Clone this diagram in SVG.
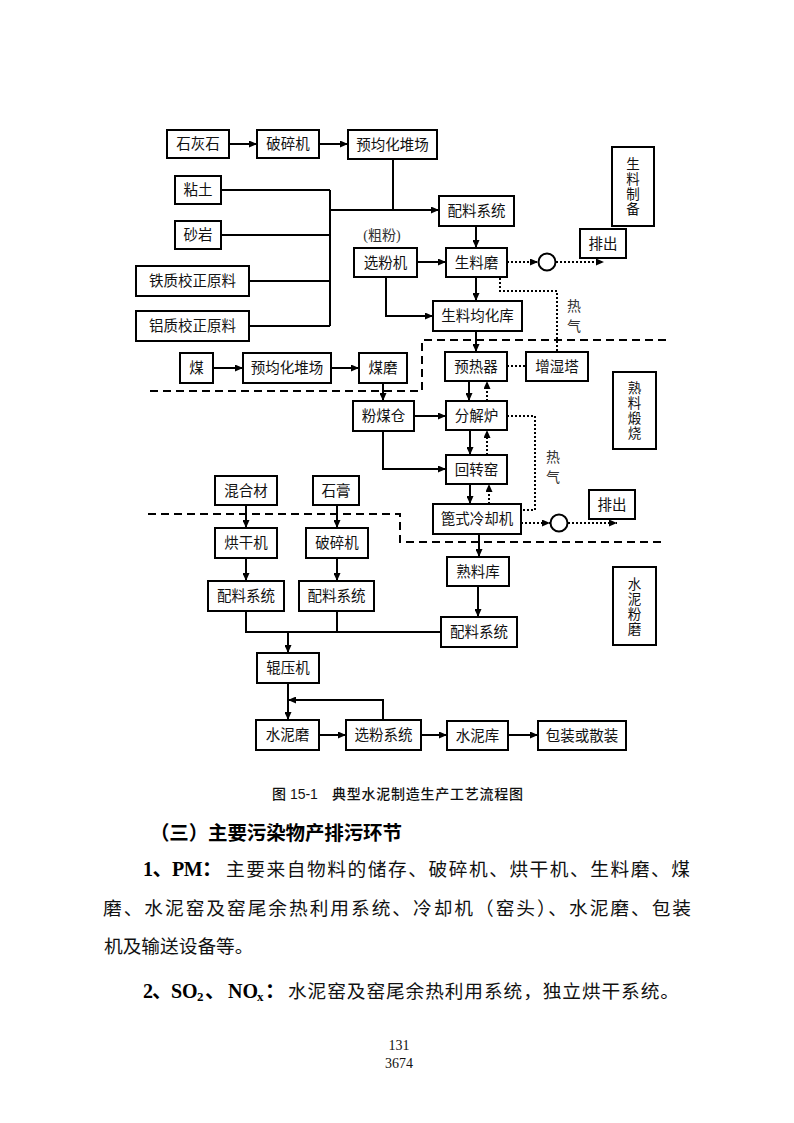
<svg xmlns="http://www.w3.org/2000/svg" width="794" height="1123" viewBox="0 0 794 1123">
<style>
.b{fill:#fff;stroke:#000;stroke-width:2}
.t{font-family:"Liberation Serif","Noto Sans CJK SC",serif;font-size:14.5px;fill:#111;text-anchor:middle;dominant-baseline:central}
.v{font-family:"Liberation Serif","Noto Sans CJK SC",serif;font-size:13.5px;fill:#111;text-anchor:middle;dominant-baseline:central}
.s{fill:none;stroke:#000;stroke-width:2}
.d{fill:none;stroke:#000;stroke-width:2;stroke-dasharray:2 2}
.dash{fill:none;stroke:#000;stroke-width:2;stroke-dasharray:8 5}
.lbl{font-family:"Liberation Serif","Noto Sans CJK SC",serif;font-size:14px;fill:#333;text-anchor:middle;dominant-baseline:central}
.cap{font-family:"Liberation Sans","Noto Sans CJK SC",sans-serif;font-size:14px;fill:#111;font-weight:500}
.h{font-family:"Noto Sans CJK SC",sans-serif;font-size:19.5px;font-weight:700;fill:#000}
.body{font-family:"Liberation Serif","Noto Sans CJK SC",serif;font-size:18.7px;fill:#111}
.bl{font-family:"Liberation Serif","Noto Sans CJK SC",serif;font-size:20px;font-weight:700;fill:#000}
.pg{font-family:"Liberation Serif",serif;font-size:14px;fill:#111;text-anchor:middle}
</style>
<defs>
<marker id="ah" viewBox="0 0 8 7" refX="8" refY="3.5" markerWidth="8" markerHeight="7" markerUnits="userSpaceOnUse" orient="auto"><path d="M0,0L8,3.5L0,7z" fill="#000"/></marker>
</defs>

<g id="separators">
<path class="dash" d="M666,340H422V391H148"/>
<path class="dash" d="M148,514H400V542H666"/>
</g>

<g id="connectors">
<path class="s" d="M229,144H257" marker-end="url(#ah)"/>
<path class="s" d="M319,144H348" marker-end="url(#ah)"/>
<path class="s" d="M393,159V210"/>
<path class="s" d="M330,190V326"/>
<path class="s" d="M221,190H330M221,235H330M249,281H330M249,326H330"/>
<path class="s" d="M330,210H439" stroke-width="2.5" marker-end="url(#ah)"/>
<path class="s" d="M476,226V248" marker-end="url(#ah)"/>
<path class="s" d="M417,262H446" marker-end="url(#ah)"/>
<path class="d" d="M507,262H538" marker-end="url(#ah)"/>
<path class="d" d="M556,262H604" marker-end="url(#ah)"/>
<path class="s" d="M476,277V301" marker-end="url(#ah)"/>
<path class="s" d="M386,277V316H433" marker-end="url(#ah)"/>
<path class="d" d="M500,278V291H557V352"/>
<path class="s" d="M476,331V352" marker-end="url(#ah)"/>
<path class="d" d="M507,366H526"/>
<path class="s" d="M213,368H243" marker-end="url(#ah)"/>
<path class="s" d="M331,368H359" marker-end="url(#ah)"/>
<path class="s" d="M383,383V401" marker-end="url(#ah)"/>
<path class="s" d="M414,416H446" marker-end="url(#ah)"/>
<path class="s" d="M383,431V469H446" marker-end="url(#ah)"/>
<path class="s" d="M469,381V401" marker-end="url(#ah)"/>
<path class="d" d="M487,401V381" marker-end="url(#ah)"/>
<path class="s" d="M470,430V455" marker-end="url(#ah)"/>
<path class="d" d="M487,455V430" marker-end="url(#ah)"/>
<path class="s" d="M470,484V504" marker-end="url(#ah)"/>
<path class="d" d="M489,504V484" marker-end="url(#ah)"/>
<path class="d" d="M507,416H535V510H521"/>
<path class="d" d="M521,523H550" marker-end="url(#ah)"/>
<path class="d" d="M568,523H617" marker-end="url(#ah)"/>
<path class="s" d="M479,534V557" marker-end="url(#ah)"/>
<path class="s" d="M478,586V617" marker-end="url(#ah)"/>
<path class="s" d="M246,505V528" marker-end="url(#ah)"/>
<path class="s" d="M337,505V528" marker-end="url(#ah)"/>
<path class="s" d="M246,558V581" marker-end="url(#ah)"/>
<path class="s" d="M337,558V581" marker-end="url(#ah)"/>
<path class="s" d="M246,611V632H441M337,611V632"/>
<path class="s" d="M288,632V653" marker-end="url(#ah)"/>
<path class="s" d="M288,683V720" marker-end="url(#ah)"/>
<path class="s" d="M383,720V700H288" marker-end="url(#ah)"/>
<path class="s" d="M319,735H346" marker-end="url(#ah)"/>
<path class="s" d="M421,735H447" marker-end="url(#ah)"/>
<path class="s" d="M508,735H538" marker-end="url(#ah)"/>
<circle class="b" cx="547" cy="262" r="8.5"/>
<circle class="b" cx="559" cy="523" r="8.5"/>
<text class="lbl" x="382" y="235">(粗粉)</text>
<text class="lbl" x="574" y="306">热</text>
<text class="lbl" x="574" y="326">气</text>
<text class="lbl" x="553" y="457">热</text>
<text class="lbl" x="553" y="477">气</text>
</g>

<g id="n1"><rect class="b" x="167" y="130" width="62" height="28"/><text class="t" x="198" y="144">石灰石</text></g>
<g id="n2"><rect class="b" x="257" y="130" width="62" height="28"/><text class="t" x="288" y="144">破碎机</text></g>
<g id="n3"><rect class="b" x="348" y="130" width="89" height="29"/><text class="t" x="392.5" y="144.5">预均化堆场</text></g>
<g id="n4"><rect class="b" x="175" y="176" width="46" height="28"/><text class="t" x="198" y="190">粘土</text></g>
<g id="n5"><rect class="b" x="175" y="221" width="46" height="28"/><text class="t" x="198" y="235">砂岩</text></g>
<g id="n6"><rect class="b" x="136" y="266" width="113" height="30"/><text class="t" x="192.5" y="281">铁质校正原料</text></g>
<g id="n7"><rect class="b" x="136" y="311" width="113" height="30"/><text class="t" x="192.5" y="326">铝质校正原料</text></g>
<g id="n8"><rect class="b" x="439" y="196" width="75" height="30"/><text class="t" x="476.5" y="211">配料系统</text></g>
<g id="n9"><rect class="b" x="354" y="248" width="63" height="29"/><text class="t" x="385.5" y="262.5">选粉机</text></g>
<g id="n10"><rect class="b" x="446" y="248" width="61" height="29"/><text class="t" x="476.5" y="262.5">生料磨</text></g>
<g id="n11"><rect class="b" x="580" y="229" width="46" height="29"/><text class="t" x="603" y="243.5">排出</text></g>
<g id="n12"><rect class="b" x="612" y="147" width="42" height="79"/><text class="v" x="633" y="164">生</text><text class="v" x="633" y="179">料</text><text class="v" x="633" y="194">制</text><text class="v" x="633" y="209">备</text></g>
<g id="n13"><rect class="b" x="433" y="301" width="89" height="30"/><text class="t" x="477.5" y="316">生料均化库</text></g>
<g id="n14"><rect class="b" x="180" y="353" width="33" height="30"/><text class="t" x="196.5" y="368">煤</text></g>
<g id="n15"><rect class="b" x="243" y="353" width="88" height="30"/><text class="t" x="287" y="368">预均化堆场</text></g>
<g id="n16"><rect class="b" x="359" y="353" width="48" height="30"/><text class="t" x="383" y="368">煤磨</text></g>
<g id="n17"><rect class="b" x="445" y="352" width="62" height="29"/><text class="t" x="476" y="366.5">预热器</text></g>
<g id="n18"><rect class="b" x="526" y="352" width="62" height="29"/><text class="t" x="557" y="366.5">增湿塔</text></g>
<g id="n19"><rect class="b" x="613" y="372" width="43" height="77"/><text class="v" x="634.5" y="388">熟</text><text class="v" x="634.5" y="403">料</text><text class="v" x="634.5" y="418">煅</text><text class="v" x="634.5" y="433">烧</text></g>
<g id="n20"><rect class="b" x="353" y="401" width="61" height="30"/><text class="t" x="383.5" y="416">粉煤仓</text></g>
<g id="n21"><rect class="b" x="446" y="401" width="61" height="29"/><text class="t" x="476.5" y="415.5">分解炉</text></g>
<g id="n22"><rect class="b" x="446" y="455" width="61" height="29"/><text class="t" x="476.5" y="469.5">回转窑</text></g>
<g id="n23"><rect class="b" x="433" y="504" width="88" height="30"/><text class="t" x="477" y="519">篦式冷却机</text></g>
<g id="n24"><rect class="b" x="589" y="490" width="46" height="29"/><text class="t" x="612" y="504.5">排出</text></g>
<g id="n25"><rect class="b" x="215" y="476" width="62" height="29"/><text class="t" x="246" y="490.5">混合材</text></g>
<g id="n26"><rect class="b" x="313" y="476" width="46" height="29"/><text class="t" x="336" y="490.5">石膏</text></g>
<g id="n27"><rect class="b" x="215" y="528" width="62" height="30"/><text class="t" x="246" y="543">烘干机</text></g>
<g id="n28"><rect class="b" x="306" y="528" width="62" height="30"/><text class="t" x="337" y="543">破碎机</text></g>
<g id="n29"><rect class="b" x="447" y="557" width="62" height="29"/><text class="t" x="478" y="571.5">熟料库</text></g>
<g id="n30"><rect class="b" x="208" y="581" width="76" height="30"/><text class="t" x="246" y="596">配料系统</text></g>
<g id="n31"><rect class="b" x="299" y="581" width="75" height="30"/><text class="t" x="336.5" y="596">配料系统</text></g>
<g id="n32"><rect class="b" x="441" y="617" width="76" height="30"/><text class="t" x="479" y="632">配料系统</text></g>
<g id="n33"><rect class="b" x="613" y="567" width="43" height="78"/><text class="v" x="634.5" y="584">水</text><text class="v" x="634.5" y="599">泥</text><text class="v" x="634.5" y="614">粉</text><text class="v" x="634.5" y="629">磨</text></g>
<g id="n34"><rect class="b" x="257" y="653" width="62" height="30"/><text class="t" x="288" y="668">辊压机</text></g>
<g id="n35"><rect class="b" x="256" y="720" width="63" height="30"/><text class="t" x="287.5" y="735">水泥磨</text></g>
<g id="n36"><rect class="b" x="346" y="720" width="75" height="30"/><text class="t" x="383.5" y="735">选粉系统</text></g>
<g id="n37"><rect class="b" x="447" y="721" width="61" height="29"/><text class="t" x="477.5" y="735.5">水泥库</text></g>
<g id="n38"><rect class="b" x="538" y="721" width="88" height="29"/><text class="t" x="582" y="735.5">包装或散装</text></g>

<g id="caption">
<text class="cap" x="272" y="799">图 15-1</text>
<text class="cap" x="332" y="799" textLength="191" lengthAdjust="spacing">典型水泥制造生产工艺流程图</text>
</g>

<g id="text">
<text class="h" x="150" y="840" textLength="252" lengthAdjust="spacing">（三）主要污染物产排污环节</text>
<text class="bl" x="143" y="876" textLength="79" lengthAdjust="spacing">1、PM：</text>
<text class="body" x="226" y="876" textLength="464" lengthAdjust="spacing">主要来自物料的储存、破碎机、烘干机、生料磨、煤</text>
<text class="body" x="103" y="915" textLength="588" lengthAdjust="spacing">磨、水泥窑及窑尾余热利用系统、冷却机（窑头）、水泥磨、包装</text>
<text class="body" x="104" y="953">机及输送设备等。</text>
<text class="bl" y="998"><tspan x="143">2</tspan><tspan x="152">、</tspan><tspan x="171">SO</tspan><tspan x="197" dy="3" font-size="13">2</tspan><tspan x="205" dy="-3">、</tspan><tspan x="228">NO</tspan><tspan x="257" dy="3" font-size="13">x</tspan><tspan x="265" dy="-3">：</tspan></text>
<text class="body" x="288" y="998" textLength="391" lengthAdjust="spacing">水泥窑及窑尾余热利用系统，独立烘干系统。</text>
<text class="pg" x="399" y="1050">131</text>
<text class="pg" x="399" y="1068">3674</text>
</g>
</svg>
